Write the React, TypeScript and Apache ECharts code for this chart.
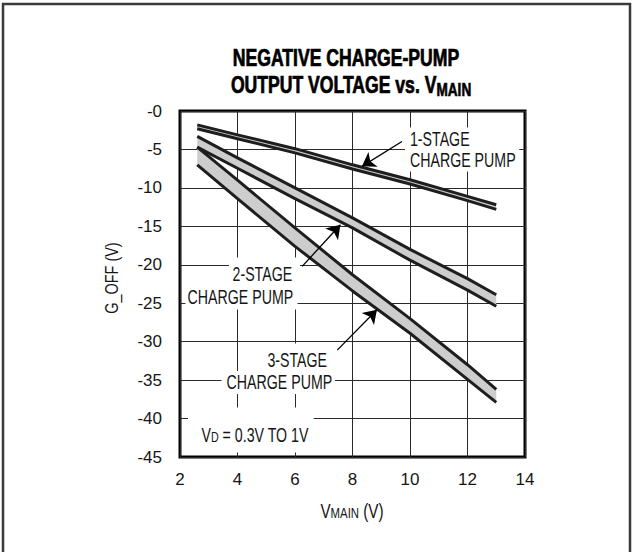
import React, { useEffect, useRef } from "react";
import * as echarts from "echarts";

// ---- data ----
const VMAIN = [2.6, 4, 6, 8, 10, 12, 13];
const STAGE1_HI = [-1.8, -3.1, -4.9, -7.0, -8.95, -11.1, -12.2];
const STAGE1_LO = [-2.3, -3.6, -5.45, -7.55, -9.5, -11.65, -12.8];
const STAGE2_HI = [-3.3, -6.1, -10.0, -13.9, -18.0, -21.8, -23.9];
const STAGE2_LO = [-4.7, -7.45, -11.4, -15.2, -19.4, -23.3, -25.4];
const STAGE3_HI = [-4.7, -9.0, -15.2, -21.3, -27.0, -33.0, -36.2];
const STAGE3_LO = [-7.0, -11.4, -17.6, -23.4, -28.9, -34.9, -37.9];

// arrows: [fromX, fromY, toX, toY] in data units
const ARROW_1 = [9.72, -3.96, 8.33, -7.2];
const ARROW_2 = [6.25, -20.2, 7.58, -14.8];
const ARROW_3 = [7.47, -31.1, 8.85, -25.85];

const X_TICKS = [2, 4, 6, 8, 10, 12, 14];
const Y_MIN = -45;
const Y_MAX = 0;

const FONT = "'Liberation Sans', Arial, sans-serif";
const INK = "#161616";
const SX = 0.71;

function bandSeries(hi: number[], lo: number[]) {
  return {
    type: "custom",
    silent: true,
    z: 2,
    data: [[VMAIN[0], hi[0]]],
    renderItem: (_params: any, api: any) => {
      const top = VMAIN.map((x, i) => api.coord([x, hi[i]]));
      const bottom = VMAIN.map((x, i) => api.coord([x, lo[i]])).reverse();
      return {
        type: "polygon",
        shape: { points: top.concat(bottom) },
        style: { fill: "#cdcdcd", stroke: null },
      };
    },
  };
}

function lineSeries(vals: number[], extra: any = {}) {
  return {
    type: "line",
    silent: true,
    z: 3,
    showSymbol: false,
    symbol: "none",
    lineStyle: { color: "#1e1e1e", width: 3 },
    data: VMAIN.map((x, i) => [x, vals[i]]),
    ...extra,
  };
}

function boxText(text: string, x: number, y: number, align: string, padding: number[]) {
  return {
    type: "text",
    z: 1,
    x,
    y,
    scaleX: SX,
    style: {
      text,
      fill: INK,
      font: `20px ${FONT}`,
      align,
      verticalAlign: "middle",
      backgroundColor: "#fff",
      padding,
      lineHeight: 19,
    },
  };
}

export default function App() {
  const ref = useRef<HTMLDivElement>(null);

  useEffect(() => {
    if (!ref.current) return;
    const chart = echarts.init(ref.current, undefined, { renderer: "svg" });

    const subRich = {
      a: { fontSize: 20, fontFamily: FONT, lineHeight: 19, fill: INK },
      s: { fontSize: 15, fontFamily: FONT, lineHeight: 12, verticalAlign: "bottom", fill: INK },
    };

    const option: any = {
      animation: false,
      backgroundColor: "#fff",
      grid: {
        left: 180,
        top: 111,
        right: 109,
        bottom: 95,
        show: true,
        borderColor: "#000",
        borderWidth: 3,
        backgroundColor: "transparent",
      },
      xAxis: {
        type: "value",
        min: X_TICKS[0],
        max: X_TICKS[X_TICKS.length - 1],
        interval: 2,
        axisLine: { show: false },
        axisTick: { show: false },
        splitLine: { show: true, lineStyle: { color: "#2a2a2a", width: 1 } },
        axisLabel: { margin: 14, fontSize: 17, fontFamily: FONT, color: INK },
      },
      yAxis: {
        type: "value",
        min: Y_MIN,
        max: Y_MAX,
        interval: 5,
        axisLine: { show: false },
        axisTick: { show: false },
        splitLine: { show: true, lineStyle: { color: "#2a2a2a", width: 1 } },
        axisLabel: {
          margin: 18,
          fontSize: 17,
          fontFamily: FONT,
          color: INK,
          formatter: (v: number) => (v === 0 ? "-0" : String(v)),
        },
      },
      series: [
        bandSeries(STAGE1_HI, STAGE1_LO),
        bandSeries(STAGE2_HI, STAGE2_LO),
        bandSeries(STAGE3_HI, STAGE3_LO),
        lineSeries(STAGE1_HI, {
          markLine: {
            silent: true,
            symbol: ["none", "arrow"],
            symbolSize: 13,
            label: { show: false },
            emphasis: { disabled: true },
            lineStyle: { color: "#000", width: 1.3, type: "solid" },
            data: [ARROW_1, ARROW_2, ARROW_3].map((a) => [
              { coord: [a[0], a[1]] },
              { coord: [a[2], a[3]] },
            ]),
          },
        }),
        lineSeries(STAGE1_LO),
        lineSeries(STAGE2_HI),
        lineSeries(STAGE2_LO),
        lineSeries(STAGE3_HI),
        lineSeries(STAGE3_LO),
      ],
      graphic: [
        {
          type: "polyline",
          z: 5,
          silent: true,
          shape: { points: [[3, 560], [3, 4], [630, 4], [630, 560]] },
          style: { stroke: "#3a3a3a", lineWidth: 2.5, fill: null },
        },
        {
          type: "text",
          x: 346,
          y: 58,
          scaleX: 0.8,
          scaleY: 1.05,
          style: {
            text: "NEGATIVE CHARGE-PUMP",
            font: `bold 22px ${FONT}`,
            fill: "#000",
            stroke: "#000",
            lineWidth: 0.7,
            align: "center",
            verticalAlign: "middle",
          },
        },
        {
          type: "text",
          x: 351,
          y: 85,
          scaleX: 0.8,
          scaleY: 1.05,
          style: {
            text: "{a|OUTPUT VOLTAGE vs. V}{s|MAIN}",
            align: "center",
            verticalAlign: "middle",
            rich: {
              a: { font: `bold 22px ${FONT}`, lineHeight: 26, fill: "#000", stroke: "#000", lineWidth: 0.7 },
              s: { font: `bold 17px ${FONT}`, lineHeight: 16, verticalAlign: "bottom", fill: "#000", stroke: "#000", lineWidth: 0.6 },
            },
          },
        },
        // axis names
        {
          type: "text",
          x: 352,
          y: 511,
          scaleX: 0.76,
          style: {
            text: "{a|V}{s|MAIN}{a| (V)}",
            align: "center",
            verticalAlign: "middle",
            rich: subRich,
          },
        },
        {
          type: "text",
          x: 112,
          y: 278,
          rotation: Math.PI / 2,
          scaleX: 0.76,
          style: {
            text: "G_OFF (V)",
            font: `19px ${FONT}`,
            fill: INK,
            align: "center",
            verticalAlign: "middle",
          },
        },
        // annotations
        boxText("1-STAGE", 405, 139, "left", [3, 4, 1, 7]),
        boxText("CHARGE PUMP", 405, 160, "left", [1, 5, 3, 7]),
        boxText("2-STAGE", 300, 274, "right", [10, 11, 4, 5]),
        boxText("CHARGE PUMP", 297.5, 297.5, "right", [4, 6, 1, 3]),
        boxText("3-STAGE", 337, 360, "right", [10, 14, 4, 8]),
        boxText("CHARGE PUMP", 335, 382.5, "right", [4, 4, 0, 7]),
        {
          type: "text",
          z: 1,
          x: 188,
          y: 430,
          scaleX: SX,
          style: {
            text: "{a|V}{s|D}{a| = 0.3V TO 1V}",
            align: "left",
            verticalAlign: "middle",
            backgroundColor: "#fff",
            padding: [18, 7, 8, 19],
            rich: subRich,
          },
        },
      ],
    };

    chart.setOption(option);
    return () => chart.dispose();
  }, []);

  return (
    <div
      ref={ref}
      style={{ position: "absolute", left: 0, top: 0, width: 634, height: 552, background: "#fff" }}
    />
  );
}
